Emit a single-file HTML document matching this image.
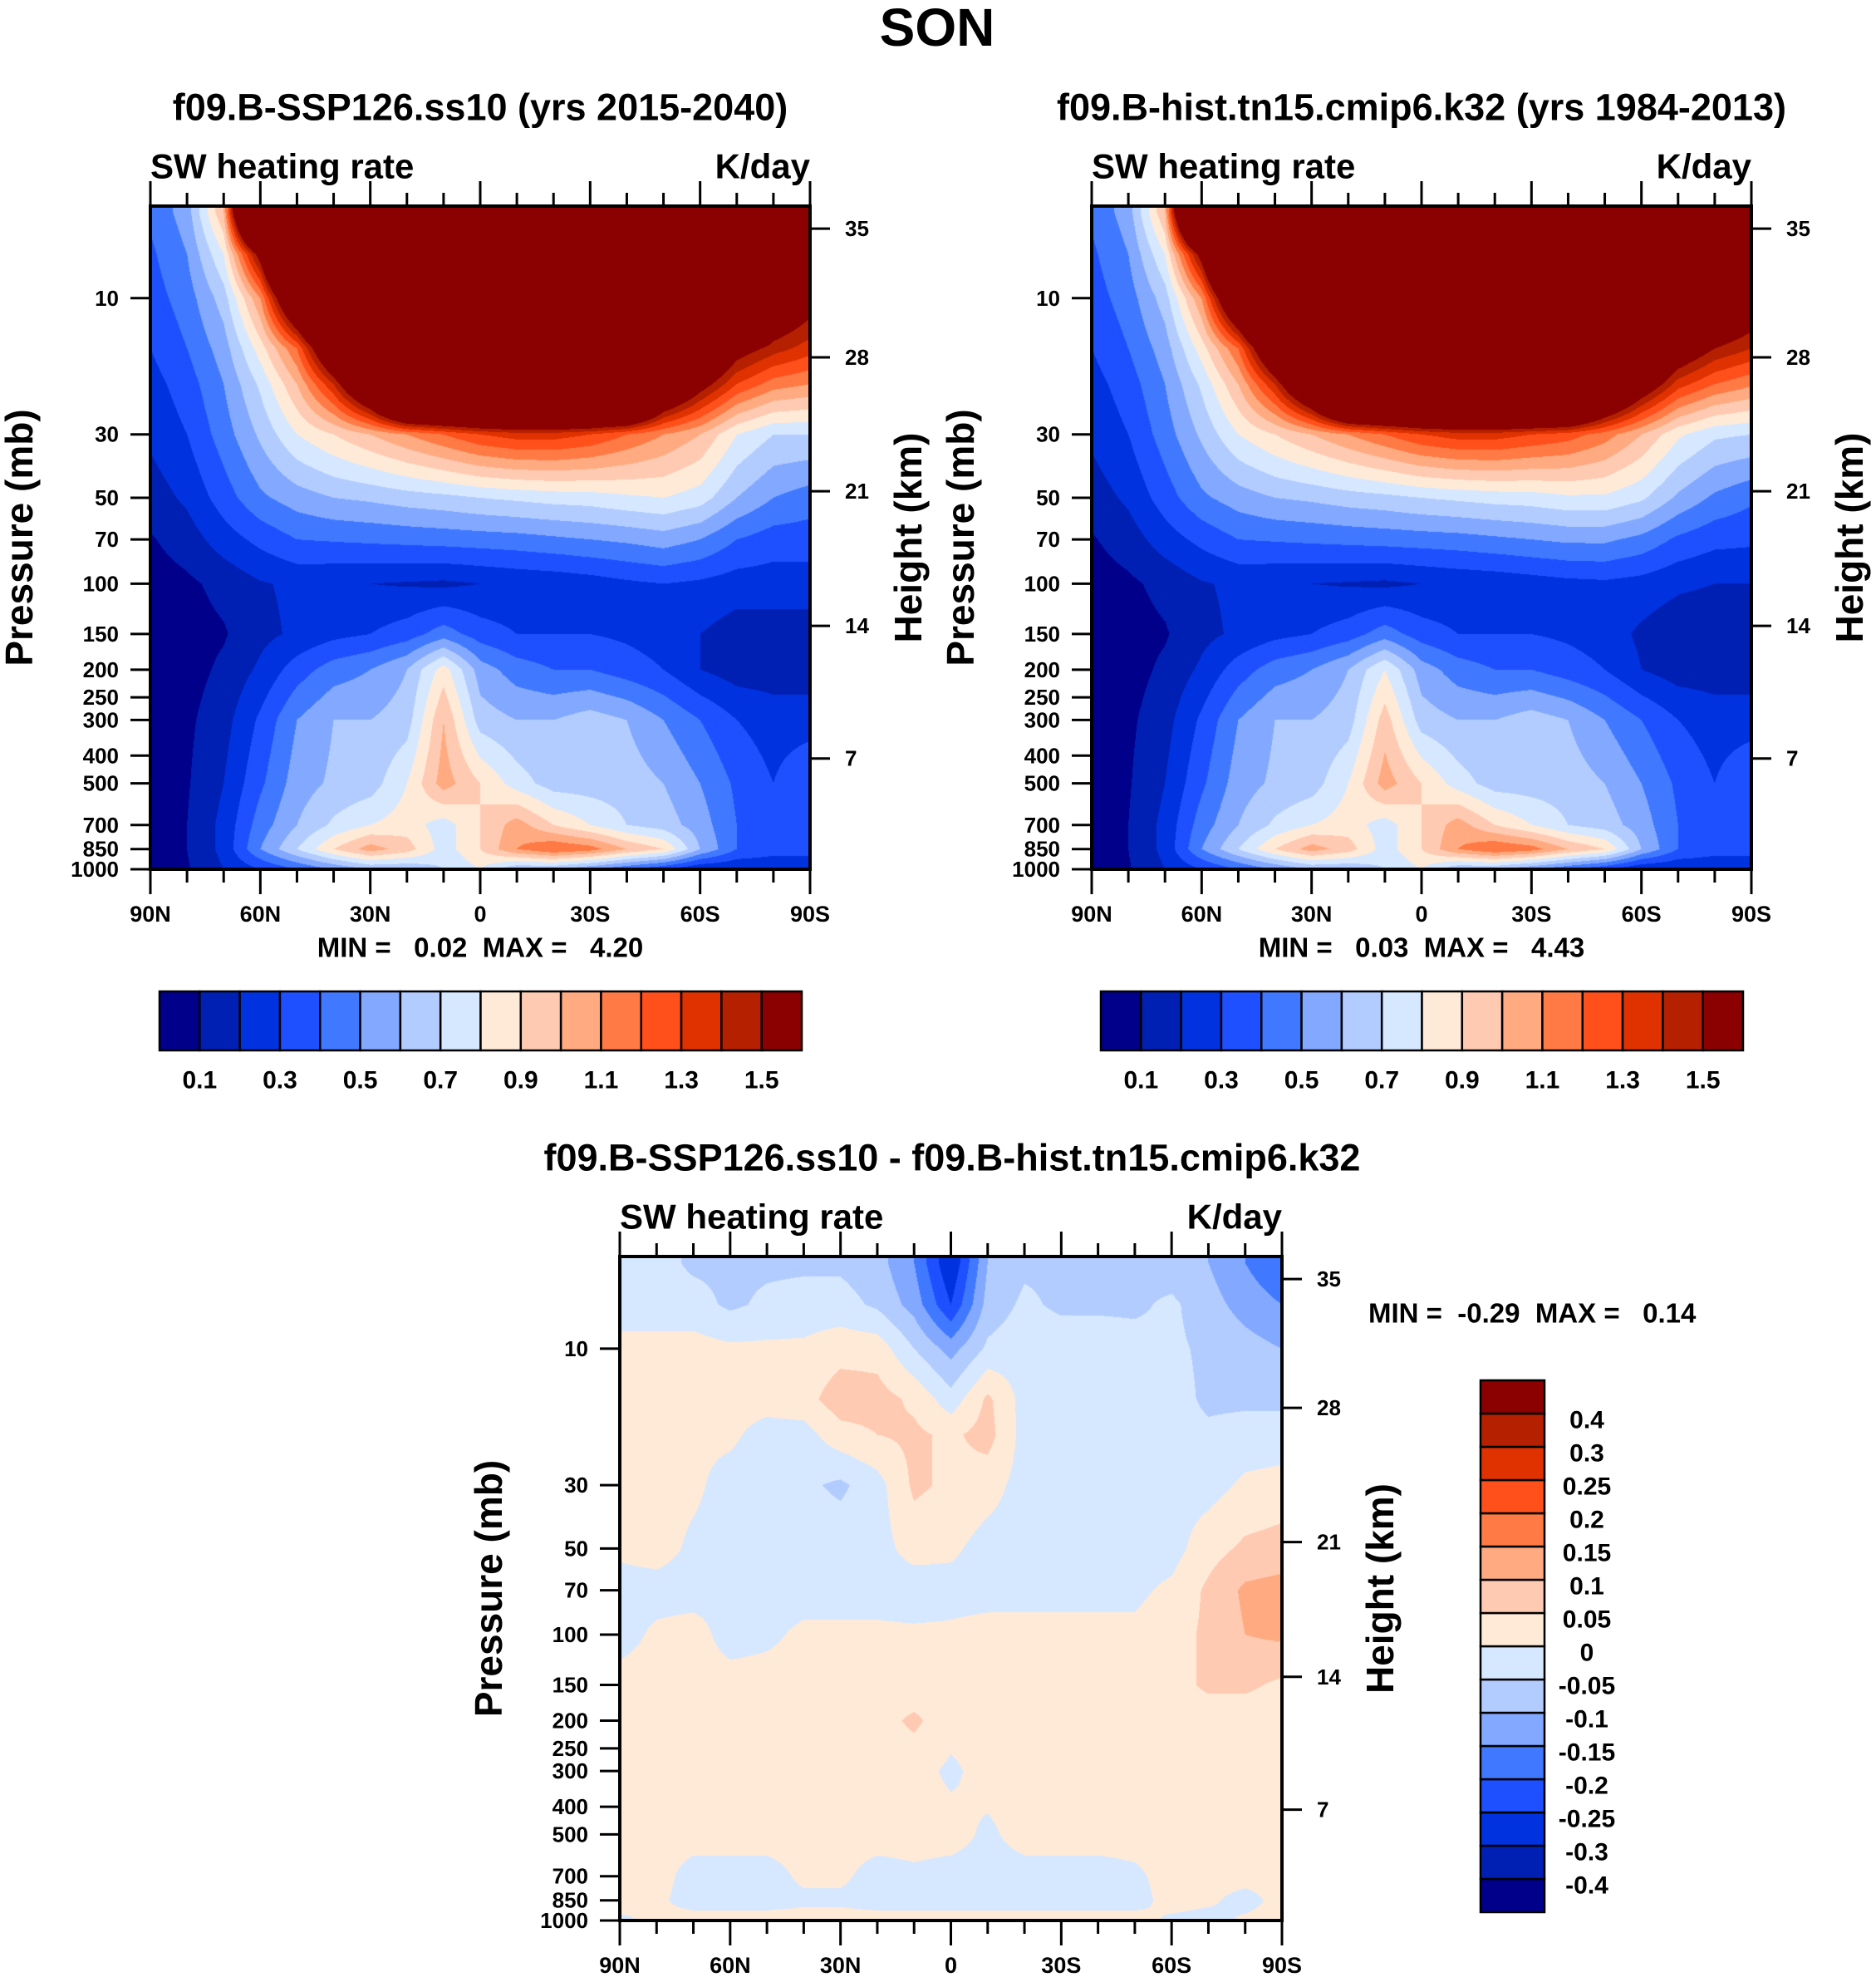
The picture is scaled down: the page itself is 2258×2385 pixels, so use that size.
<!DOCTYPE html>
<html><head><meta charset="utf-8">
<style>
html,body{margin:0;padding:0;background:#fff;}
#root{position:relative;width:2258px;height:2385px;overflow:hidden;font-family:"Liberation Sans",sans-serif;font-weight:bold;color:#000;}
svg{position:absolute;left:0;top:0;}
canvas{position:absolute;}
text{white-space:pre;}
</style></head>
<body>
<div id="root">
<canvas id="c1"></canvas>
<canvas id="c2"></canvas>
<canvas id="c3"></canvas>
<svg id="svg" width="2258" height="2385"></svg>
</div>
<script>
// ---- data ----
const lats = [90,80,70,60,50,40,30,20,10,0,-10,-20,-30,-40,-50,-60,-70,-80,-90];
const levels = [5,7,10,15,20,30,50,70,100,150,200,300,500,700,850,1000];
const absBounds = [0.1,0.2,0.3,0.4,0.5,0.6,0.7,0.8,0.9,1.0,1.1,1.2,1.3,1.4,1.5];
const absLabels = ["0.1","0.3","0.5","0.7","0.9","1.1","1.3","1.5"];
const diffBounds = [-0.4,-0.3,-0.25,-0.2,-0.15,-0.1,-0.05,0,0.05,0.1,0.15,0.2,0.25,0.3,0.4];
const diffLabels = ["-0.4","-0.3","-0.25","-0.2","-0.15","-0.1","-0.05","0","0.05","0.1","0.15","0.2","0.25","0.3","0.4"];
const colors = ["#00008b","#0020b4","#0032e0","#1e50ff","#4078ff","#82a9ff","#b3ccff","#d6e8ff","#ffead8","#ffcab1","#ffaa80","#ff7a44","#ff501c","#e03200","#b52000","#8b0000"];
const pTicks = [10,30,50,70,100,150,200,250,300,400,500,700,850,1000];
const hTicks = ["35","28","21","14","7"];
const hTickFrac = [0.034,0.228,0.430,0.633,0.833];
const latTicks = ["90N","60N","30N","0","30S","60S","90S"];

const fieldA = [
[.42,.55,1.0,3,3,3,3,3,3,3,3,3,3,3,3,3,3,3,3],
[.38,.5,.8,1.6,3,3,3,3,3,3,3,3,3,3,3,3,3,2.5,2.2],
[.35,.45,.65,1.1,2,3,3,3,3,3,3,3,3,3,3,3,3,1.8,1.6],
[.3,.4,.55,.85,1.2,1.9,3,3,3,3,3,3,3,3,3,2,1.6,1.45,1.35],
[.26,.35,.5,.72,1.0,1.4,2,3,3,3,3,3,3,3,2,1.6,1.3,1.15,1.1],
[.22,.3,.45,.62,.8,.9,1.0,1.1,1.2,1.3,1.35,1.35,1.3,1.2,1.1,1.0,.8,.7,.7],
[.15,.22,.35,.48,.55,.6,.62,.65,.67,.7,.72,.74,.75,.78,.8,.75,.6,.5,.45],
[.09,.15,.25,.33,.4,.41,.42,.43,.44,.45,.46,.48,.5,.52,.55,.5,.4,.35,.35],
[.05,.08,.13,.19,.22,.21,.2,.19,.18,.2,.22,.23,.25,.28,.3,.28,.25,.25,.25],
[.05,.06,.09,.17,.22,.27,.3,.35,.45,.35,.3,.3,.3,.28,.25,.2,.15,.15,.15],
[.05,.06,.12,.22,.35,.45,.5,.6,.85,.55,.45,.4,.4,.35,.3,.2,.15,.15,.15],
[.05,.08,.16,.32,.5,.6,.6,.65,1.0,.65,.6,.6,.65,.6,.5,.4,.3,.25,.25],
[.05,.09,.2,.38,.55,.62,.65,.8,1.05,.9,.75,.65,.65,.65,.6,.5,.38,.3,.4],
[.05,.1,.23,.45,.6,.72,.8,.85,.75,.9,1.05,.9,.8,.7,.65,.55,.4,.3,.3],
[.05,.1,.23,.5,.7,.9,1.05,.95,.75,.9,1.1,1.2,1.15,1.0,.9,.6,.4,.35,.35],
[.05,.09,.2,.3,.4,.5,.6,.6,.7,.8,.6,.6,.5,.4,.3,.2,.2,.2,.2]];

const fieldB = [
[.42,.55,1.0,3,3,3,3,3,3,3,3,3,3,3,3,3,3,3,3],
[.38,.5,.8,1.6,3,3,3,3,3,3,3,3,3,3,3,3,3,2.6,2.3],
[.35,.45,.65,1.1,2,3,3,3,3,3,3,3,3,3,3,3,3,1.9,1.7],
[.3,.4,.55,.85,1.2,1.9,3,3,3,3,3,3,3,3,3,2.1,1.7,1.5,1.4],
[.26,.35,.5,.72,1.0,1.4,2,3,3,3,3,3,3,3,2.2,1.7,1.35,1.2,1.12],
[.22,.3,.45,.62,.8,.9,1.0,1.1,1.2,1.3,1.35,1.35,1.3,1.25,1.15,1.0,.82,.72,.7],
[.15,.22,.35,.48,.55,.6,.62,.65,.67,.7,.72,.74,.75,.78,.78,.72,.58,.48,.42],
[.09,.15,.25,.33,.4,.41,.42,.43,.44,.45,.46,.48,.5,.52,.52,.47,.38,.33,.32],
[.05,.08,.13,.19,.22,.21,.2,.19,.18,.2,.22,.23,.25,.27,.28,.26,.22,.2,.2],
[.05,.06,.09,.17,.22,.27,.3,.35,.45,.35,.3,.3,.3,.28,.25,.18,.13,.12,.13],
[.05,.06,.12,.22,.35,.45,.5,.6,.8,.55,.45,.4,.4,.35,.3,.2,.15,.15,.15],
[.05,.08,.16,.32,.5,.6,.6,.65,.95,.65,.6,.6,.65,.6,.5,.4,.3,.25,.25],
[.05,.09,.2,.38,.55,.62,.65,.8,1.05,.9,.75,.65,.65,.65,.6,.5,.38,.3,.4],
[.05,.1,.23,.45,.6,.72,.8,.85,.75,.9,1.05,.9,.8,.7,.65,.55,.4,.3,.3],
[.05,.1,.23,.5,.7,.9,1.05,.95,.75,.9,1.1,1.2,1.15,1.0,.9,.6,.4,.35,.35],
[.05,.09,.2,.3,.4,.5,.6,.6,.7,.8,.6,.6,.5,.4,.3,.2,.2,.2,.2]];

const fieldD = [
[-.03,-.03,-.06,-.06,-.06,-.06,-.06,-.08,-.15,-.3,-.1,-.06,-.06,-.06,-.06,-.08,-.1,-.15,-.2],
[-.03,-.03,-.03,-.06,-.04,-.03,-.03,-.06,-.12,-.25,-.08,-.04,-.06,-.06,-.06,-.04,-.08,-.12,-.15],
[.02,.02,.02,.01,.01,.01,.03,.03,-.05,-.12,-.04,-.02,-.02,-.02,-.03,-.04,-.06,-.08,-.1],
[.02,.02,.02,.02,.02,.03,.08,.07,.04,-.03,.06,-.02,-.02,-.02,-.02,-.03,-.06,-.06,-.06],
[.02,.02,.01,.01,-.02,-.02,.03,.05,.06,.04,.07,-.02,-.02,-.03,-.03,-.03,-.04,-.03,-.03],
[.02,.02,.01,-.02,-.03,-.04,-.06,-.02,.06,.04,.02,-.02,-.02,-.02,-.02,-.02,-.02,.01,.02],
[.01,.02,-.01,-.02,-.02,-.02,-.02,-.02,.02,.01,-.02,-.02,-.03,-.03,-.02,-.02,.03,.06,.07],
[-.02,-.02,-.02,-.01,-.02,-.02,-.02,-.02,-.03,-.02,-.02,-.02,-.02,-.02,-.01,.01,.06,.11,.12],
[-.02,.01,.02,-.02,-.01,.01,.01,.01,.01,.01,.02,.02,.02,.02,.01,.03,.06,.1,.11],
[.02,.02,.02,.02,.02,.02,.02,.02,.02,.02,.02,.02,.02,.02,.02,.03,.06,.06,.04],
[.02,.02,.02,.02,.02,.02,.02,.03,.06,.02,.02,.02,.02,.02,.02,.02,.02,.02,.02],
[.02,.02,.02,.02,.02,.02,.02,.02,.02,-.01,.02,.02,.02,.02,.02,.02,.02,.02,.02],
[.02,.02,.02,.02,.02,.02,.02,.02,.02,.02,-.01,.02,.02,.02,.02,.02,.02,.02,.02],
[.02,.02,-.02,-.02,-.02,.01,.01,-.02,-.01,-.02,-.02,-.02,-.02,-.02,-.01,.02,.02,.02,.02],
[.02,.01,-.02,-.02,-.02,-.01,-.01,-.02,-.02,-.02,-.02,-.02,-.02,-.02,-.02,.02,.01,-.02,.02],
[-.01,.01,.02,.02,.02,.02,.02,.02,.02,.02,.02,.02,.02,.02,.02,-.01,-.02,.01,.02]];

// ---- layout ----
const NS="http://www.w3.org/2000/svg";
const svg=document.getElementById('svg');
const PTOP=Math.log10(4.76), PBOT=3;
function mk(tag,attrs,parent){const e=document.createElementNS(NS,tag);for(const k in attrs)e.setAttribute(k,attrs[k]);(parent||svg).appendChild(e);return e;}
function txt(s,x,y,size,anchor,parent,extra){const t=mk('text',Object.assign({x:x,y:y,'font-size':size,'text-anchor':anchor||'middle','dominant-baseline':'central','font-family':'Liberation Sans, sans-serif','font-weight':'bold'},extra||{}),parent);t.textContent=s;return t;}

function colorIdx(v,b){let i=0;while(i<b.length&&v>=b[i])i++;return i;}

function drawPanel(id,field,bounds,P,name){
  const g=mk('g',{});
  
  
  const xOf=lat=>P.x+(90-lat)/180*P.w;
  const yOf=p=>P.y+(Math.log10(p)-PTOP)/(PBOT-PTOP)*P.h;
  const cv=document.getElementById(id);
  cv.width=P.w;cv.height=P.h;cv.style.left=P.x+'px';cv.style.top=P.y+'px';
  const ctx=cv.getContext('2d');
  const img=ctx.createImageData(P.w,P.h);
  const rgb=colors.map(c=>[parseInt(c.slice(1,3),16),parseInt(c.slice(3,5),16),parseInt(c.slice(5,7),16)]);
  const logL=levels.map(l=>Math.log10(l));
  for(let py=0;py<P.h;py++){
    const lp=PTOP+(py+0.5)/P.h*(PBOT-PTOP);
    let j=0;while(j<logL.length-2&&lp>logL[j+1])j++;
    let fy=(lp-logL[j])/(logL[j+1]-logL[j]);fy=Math.max(0,Math.min(1,fy));
    for(let px=0;px<P.w;px++){
      const lat=90-(px+0.5)/P.w*180;
      let fi=(90-lat)/10;let i=Math.min(17,Math.floor(fi));let fx=fi-i;
      const v=(field[j][i]*(1-fx)+field[j][i+1]*fx)*(1-fy)+(field[j+1][i]*(1-fx)+field[j+1][i+1]*fx)*fy;
      const c=rgb[colorIdx(v,bounds)];const o=(py*P.w+px)*4;
      img.data[o]=c[0];img.data[o+1]=c[1];img.data[o+2]=c[2];img.data[o+3]=255;
    }
  }
  ctx.putImageData(img,0,0);
  const fr=mk('rect',{x:P.x,y:P.y,width:P.w,height:P.h,fill:'none',stroke:'#000','stroke-width':4},g);
  
  for(let lat=90;lat>=-90;lat-=10){
    const x=xOf(lat);const major=lat%30===0;const L=major?30:16;
    mk('line',{x1:x,y1:P.y,x2:x,y2:P.y-L,stroke:'#000','stroke-width':3},g);
    mk('line',{x1:x,y1:P.y+P.h,x2:x,y2:P.y+P.h+L,stroke:'#000','stroke-width':3},g);
  }
  latTicks.forEach((s,k)=>{const t=txt(s,xOf(90-30*k),P.y+P.h+54,27,'middle',g);});
  pTicks.forEach(p=>{const y=yOf(p);mk('line',{x1:P.x,y1:y,x2:P.x-24,y2:y,stroke:'#000','stroke-width':3},g);
    const t=txt(String(p),P.x-38,y,26,'end',g);});
  hTicks.forEach((s,k)=>{const y=P.y+hTickFrac[k]*P.h;mk('line',{x1:P.x+P.w,y1:y,x2:P.x+P.w+24,y2:y,stroke:'#000','stroke-width':3},g);
    const t=txt(s,P.x+P.w+42,y,26,'start',g);});
  const a=txt('SW heating rate',P.x,P.y-48,42,'start',g);
  const u=txt('K/day',P.x+P.w,P.y-48,42,'end',g);
  const yt=txt('Pressure (mb)',0,0,46,'middle',g,{transform:`translate(${P.x-158},${P.y+P.h*0.5}) rotate(-90)`});
  
  const ht=txt('Height (km)',0,0,46,'middle',g,{transform:`translate(${P.x+P.w+118},${P.y+P.h*0.5}) rotate(-90)`});
  
}

const P1={x:181,y:248,w:794,h:798}, P2={x:1314,y:248,w:794,h:798}, P3={x:746,y:1512,w:797,h:799};
drawPanel('c1',fieldA,absBounds,P1,'left-panel');
drawPanel('c2',fieldB,absBounds,P2,'right-panel');
drawPanel('c3',fieldD,diffBounds,P3,'diff-panel');

let t;
t=txt('SON',1128,33,64);
t=txt('f09.B-SSP126.ss10 (yrs 2015-2040)',578,129,45);
t=txt('f09.B-hist.tn15.cmip6.k32 (yrs 1984-2013)',1711,129,45);
t=txt('f09.B-SSP126.ss10 - f09.B-hist.tn15.cmip6.k32',1146,1393,45);
t=txt('MIN =   0.02  MAX =   4.20',578,1140,33,'middle');
t=txt('MIN =   0.03  MAX =   4.43',1711,1140,33,'middle');
t=txt('MIN =  -0.29  MAX =   0.14',1647,1580,33,'start');

function hbar(x0,y0,w,h,name){
  const g=mk('g',{});
  const bw=w/colors.length;
  colors.forEach((c,k)=>{const r=mk('rect',{x:x0+k*bw,y:y0,width:bw,height:h,fill:c,stroke:'#000','stroke-width':2.5},g);
    });
  absLabels.forEach((s,k)=>{const l=txt(s,x0+(1+2*k)*bw,y0+h+36,30,'middle',g);});
}
hbar(192,1193,773,71,'left-colorbar');
hbar(1325,1193,773,71,'right-colorbar');
(function(){
  const x0=1782,y0=1661,w=77,h=640;
  const g=mk('g',{});
  const bh=h/colors.length;
  colors.forEach((c,k)=>{const r=mk('rect',{x:x0,y:y0+h-(k+1)*bh,width:w,height:bh,fill:c,stroke:'#000','stroke-width':2.5},g);
    });
  diffLabels.forEach((s,k)=>{const l=txt(s,1910,y0+h-(k+1)*bh+8,30,'middle',g);});
})();
</script>
</body></html>
